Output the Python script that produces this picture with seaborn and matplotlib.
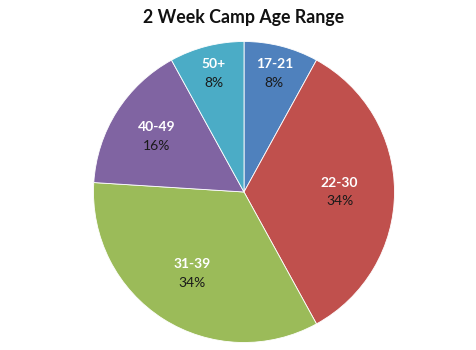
import matplotlib
matplotlib.use("Agg")
import matplotlib.pyplot as plt
import seaborn as sns
import numpy as np

# Age groups and their share of campers (percent)
age_groups = ["17-21", "22-30", "31-39", "40-49", "50+"]
shares = [8, 34, 34, 16, 8]
slice_colors = ["#4F81BD", "#C0504D", "#9BBB59", "#8064A2", "#4BACC6"]
# radial placement of each slice's label, as a fraction of the radius
label_radius = [0.81, 0.635, 0.642, 0.69, 0.81]

sns.set_theme(style="white")
plt.rcParams["font.family"] = ["Lato", "DejaVu Sans"]

fig = plt.figure(figsize=(4.77, 3.5), dpi=100)
fig.patch.set_facecolor("white")
R = 150.5
cx, cy = 244, 192
ax = fig.add_axes([(cx - R) / 477, (350 - cy - R) / 350, 2 * R / 477, 2 * R / 350])

wedges, _ = ax.pie(shares, colors=slice_colors, startangle=90, counterclock=False,
                   radius=1.0, wedgeprops=dict(linewidth=0.6, edgecolor="white"))
ax.set_xlim(-1, 1)
ax.set_ylim(-1, 1)
ax.set_aspect("equal")
ax.axis("off")

for w, name, val, r in zip(wedges, age_groups, shares, label_radius):
    ang = np.deg2rad((w.theta1 + w.theta2) / 2)
    x, y = r * np.cos(ang), r * np.sin(ang)
    ax.text(x, y + 0.063, name, ha="center", va="center", color="white",
            fontsize=10, fontweight="bold")
    ax.text(x, y - 0.063, f"{val}%", ha="center", va="center", color="#1a1a1a",
            fontsize=10)

fig.text(244 / 477, 1 - 18 / 350, "2 Week Camp Age Range", ha="center", va="center",
         fontsize=12.8, fontweight="bold", color="#111111")

fig.savefig("out.png", dpi=100, facecolor="white")
